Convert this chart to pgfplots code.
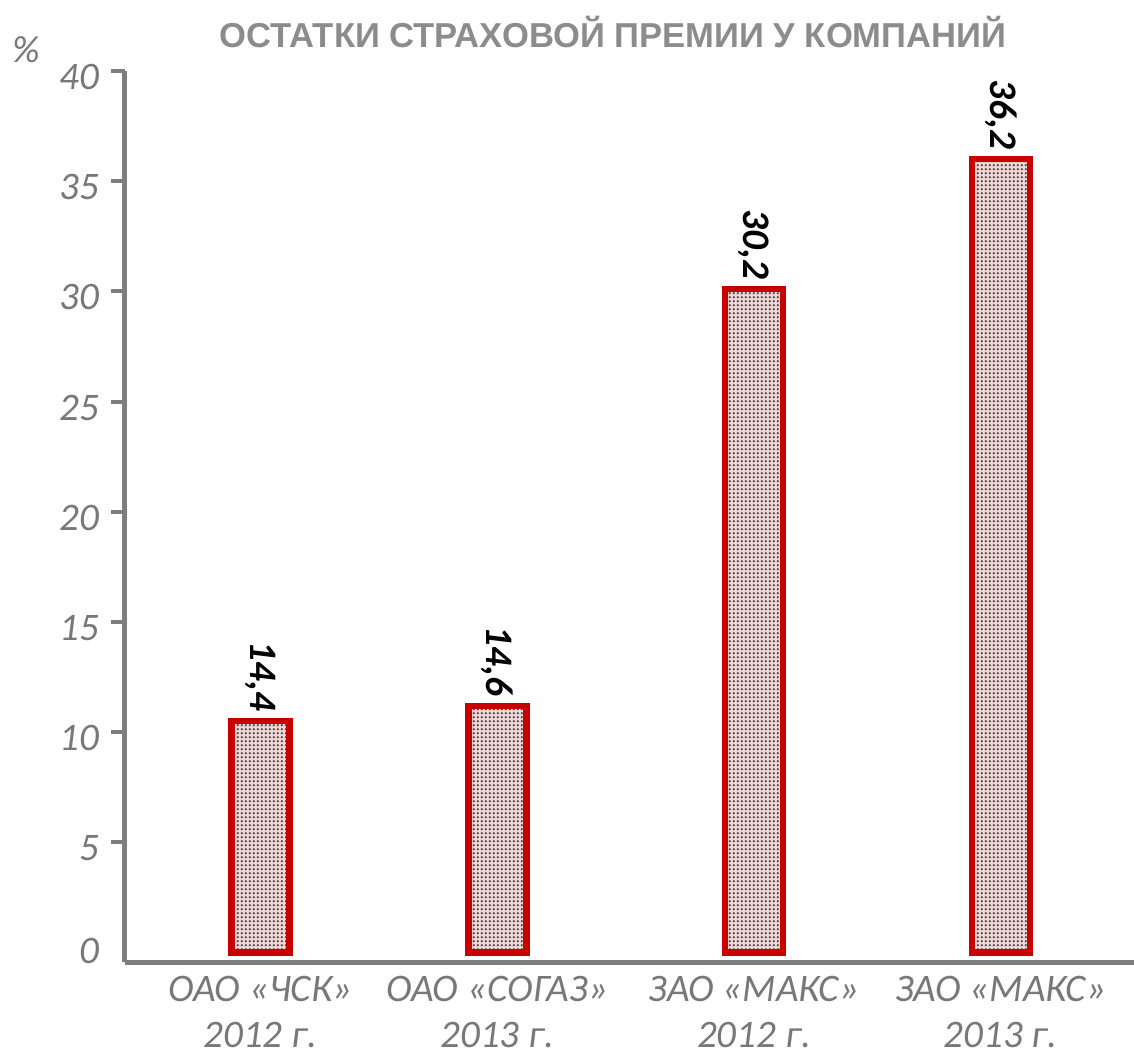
\documentclass[border=0pt]{standalone}
\usepackage{pgfplots}
\pgfplotsset{compat=1.18}
\usepackage{pgfplotstable}
\usepackage{fontspec}
\usetikzlibrary{patterns}
\setmainfont{Carlito}
\newfontfamily\titlefont{Liberation Sans}
\definecolor{axisgray}{RGB}{125,125,125}
\definecolor{labgray}{RGB}{120,120,120}
\definecolor{titlegray}{RGB}{140,140,140}
\definecolor{barred}{RGB}{200,0,0}
\definecolor{barfill}{RGB}{242,214,214}
\pgfdeclarepatternformonly{mydots}{\pgfpointorigin}{\pgfpoint{1.9pt}{1.9pt}}{\pgfpoint{1.9pt}{1.9pt}}{%
  \pgfpathcircle{\pgfpoint{0.95pt}{0.95pt}}{0.6pt}\pgfusepath{fill}}
\pgfplotstableread{
x y label
0 10.5 14,4
0.96 11.2 14,6
2 30.1 30,2
3 36.0 36,2
}\bardata
\begin{document}
\begin{tikzpicture}
\useasboundingbox (-62.5pt,-47.5pt) rectangle (504.5pt,481pt);
\begin{axis}[
  at={(0pt,0pt)}, anchor=south west,
  scale only axis, width=504.5pt, height=445.5pt,
  xmin=-0.549, xmax=3.54, ymin=-0.43, ymax=40,
  axis x line=bottom, axis y line=left,
  axis line style={-, line width=2.5pt, draw=axisgray},
  xtick={0,0.96,2,3},
  xticklabels={{ОАО «ЧСК»\\2012 г.},{ОАО «СОГАЗ»\\2013 г.},{ЗАО «МАКС»\\2012 г.},{ЗАО «МАКС»\\2013 г.}},
  x tick style={draw=none},
  xticklabel style={align=center, font=\itshape\fontsize{19.5}{23}\selectfont, text=labgray, yshift=3.5pt},
  ytick={5,10,...,40},
  extra y ticks={0},
  extra y tick style={y tick style={draw=none}, tick style={draw=none}, yticklabel style={yshift=4pt}},
  y tick style={line width=2pt, draw=axisgray},
  tick align=outside, major tick length=7pt,
  yticklabel style={font=\itshape\fontsize{19.5}{22}\selectfont, text=labgray, xshift=-2.5pt, yshift=-3pt},
  /pgf/number format/assume math mode=true,
]
\addplot[ybar, bar width=29pt, draw=barred, line width=3.2pt,
  preaction={fill=barfill}, pattern=mydots, pattern color=black!75,
  nodes near coords, point meta=explicit symbolic,
  every node near coord/.append style={rotate=-90, anchor=east, font=\bfseries\itshape\fontsize{19.5}{22}\selectfont, text=black}]
  table[x=x, y=y, meta=label]{\bardata};
\end{axis}
\node[font=\titlefont\bfseries\fontsize{17.3}{20}\selectfont, text=titlegray] at (244pt,465pt) {ОСТАТКИ СТРАХОВОЙ ПРЕМИИ У КОМПАНИЙ};
\node[font=\itshape\fontsize{19}{22}\selectfont, text=labgray] at (-49.5pt,456pt) {\%};
\end{tikzpicture}
\end{document}
